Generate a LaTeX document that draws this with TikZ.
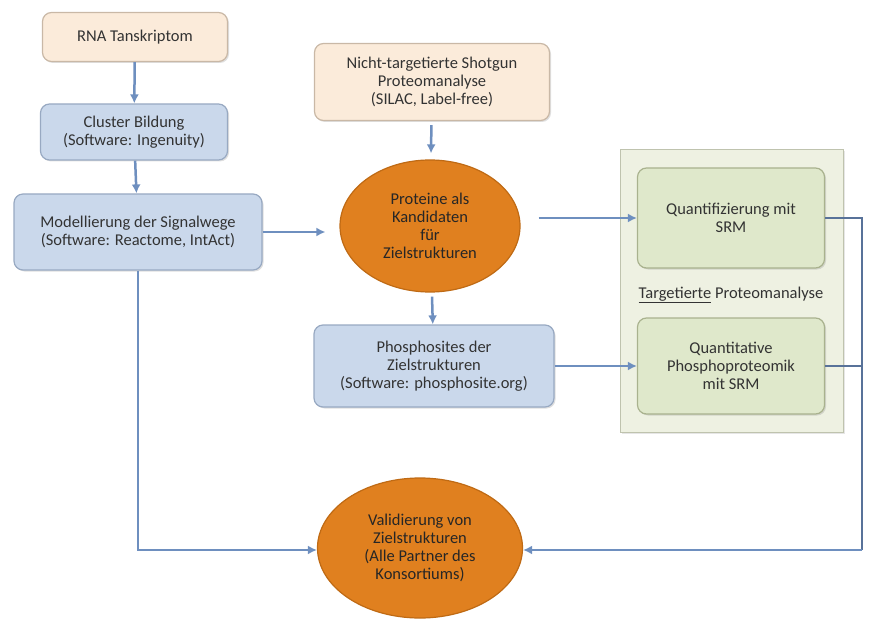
\documentclass[tikz,border=0pt]{standalone}
\usepackage{fontspec}
\setmainfont{Carlito}
\usetikzlibrary{shapes.geometric,shadows,arrows.meta}
\definecolor{peachfill}{HTML}{FBEBDA}
\definecolor{peachline}{HTML}{C9B8A6}
\definecolor{bluefill}{HTML}{CAD8EB}
\definecolor{blueline}{HTML}{98A9C2}
\definecolor{greenfill}{HTML}{DFE8CB}
\definecolor{greenline}{HTML}{A9B28E}
\definecolor{panelfill}{HTML}{EEF1E2}
\definecolor{panelline}{HTML}{BFC3AE}
\definecolor{orangefill}{HTML}{E0801F}
\definecolor{orangeline}{HTML}{BF6A14}
\definecolor{flowblue}{HTML}{6E8FBF}
\newcommand{\PanelLeft}{620}
\newcommand{\PanelRight}{843}
\newcommand{\LineRight}{862}

\begin{document}
\begin{tikzpicture}[x=1pt,y=-1pt,
    font=\fontsize{16.5}{18}\selectfont,
    basebox/.style={rounded corners=9pt,line width=1.2pt,align=center,inner sep=0pt,text=black!80,
      drop shadow={opacity=0.25,shadow xshift=1.5pt,shadow yshift=-1.5pt}},
    peachbox/.style={basebox,draw=peachline,fill=peachfill},
    bluebox/.style={basebox,draw=blueline,fill=bluefill},
    greenbox/.style={basebox,draw=greenline,fill=greenfill},
    target/.style={ellipse,draw=orangeline,fill=orangefill,line width=1.2pt,align=center,inner sep=0pt,text=black!85},
    flow/.style={draw=flowblue,line width=2.5pt,-{Latex[length=9pt,width=9pt]}},
    link/.style={draw=flowblue!80!black,line width=1.6pt}]
		\useasboundingbox (0,0) rectangle (877,620);

		% left column
		\node[peachbox,minimum width=185,minimum height=49] (rna) at (135,37) {RNA Tanskriptom};
		\node[bluebox,minimum width=187,minimum height=56] (cluster) at (134,132) {Cluster Bildung\\(Software: Ingenuity)};
		\node[bluebox,minimum width=248,minimum height=76] (model) at (138,232) {Modellierung der Signalwege\\(Software: Reactome, IntAct)};

		% middle column
		\node[peachbox,minimum width=235,minimum height=77] (shotgun) at (432,82) {Nicht-targetierte Shotgun\\Proteomanalyse\\(SILAC, Label-free)};
		\node[target,minimum width=180,minimum height=132] (proteine) at (430,226) {Proteine als\\Kandidaten\\für\\Zielstrukturen};
		\node[bluebox,minimum width=240,minimum height=82] (phospho) at (434,366) {Phosphosites der\\Zielstrukturen\\(Software: phosphosite.org)};
		\node[target,minimum width=205,minimum height=140] (valid) at (420,548) {Validierung von\\Zielstrukturen\\(Alle Partner des\\Konsortiums)};

		% right panel
		\draw[panelline,fill=panelfill,line width=1pt,drop shadow={opacity=0.2,shadow xshift=1.5pt,shadow yshift=-1.5pt}]
			(\PanelLeft,150) rectangle (\PanelRight,432);
		\node[greenbox,minimum width=187,minimum height=100] (quant) at (731,218) {Quantifizierung mit\\SRM};
		\node[greenbox,minimum width=187,minimum height=96] (qphos) at (731,366) {Quantitative\\Phosphoproteomik\\mit SRM};
		\node[text=black!80] (panel) at (731,295) {\underline{Targetierte} Proteomanalyse};

		\coordinate (rt) at (\LineRight,218);
		\coordinate (rm) at (\LineRight,366);
		\coordinate (rb) at (\LineRight,550);
		\coordinate (lb) at (model.south |- rb);
		\coordinate (pin) at (proteine.west |- model.east);
		\coordinate (pout) at (proteine.east |- quant.west);

		% connectors
		\draw[flow] (rna) -- (cluster);
		\draw[flow] (cluster) -- (model);
		\draw[flow,shorten >=14pt] (model.east) -- (pin);
		\draw[flow,shorten <=4pt,shorten >=6pt] (shotgun) -- (proteine);
		\draw[flow,shorten <=18pt] (pout) -- (quant.west);
		\draw[flow,shorten <=4pt] (proteine) -- (phospho);
		\draw[flow] (phospho.east) -- (qphos.west);
		\draw[link] (quant.east) -- (rt) -- (rb);
		\draw[link] (qphos.east) -- (rm);
		\draw[flow,line width=1.8pt] (rb) -- (valid.east |- rb);
		\draw[flow,line width=1.8pt] (model.south) -- (lb) -- (valid.west |- rb);
	\end{tikzpicture}
\end{document}
